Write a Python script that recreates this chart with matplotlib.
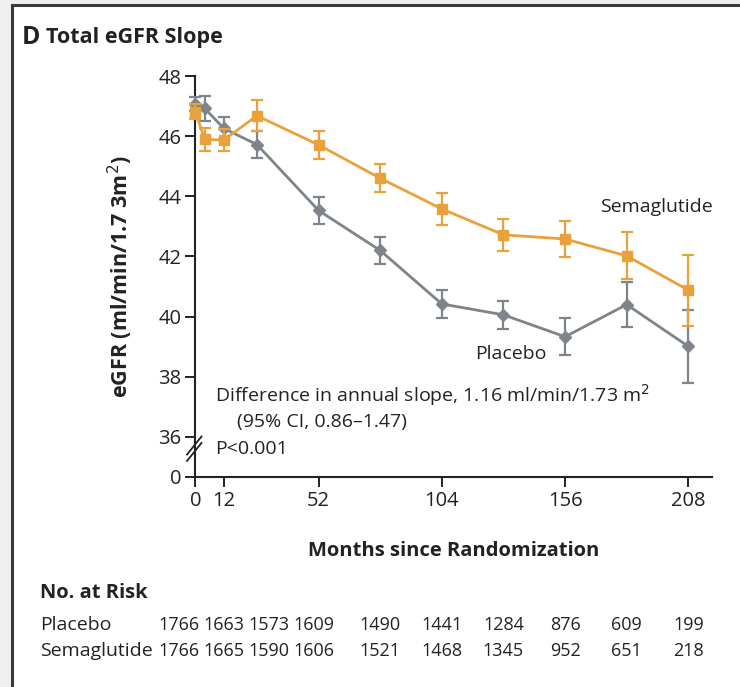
import matplotlib.pyplot as plt
import matplotlib.patches as mpatches
import matplotlib.lines as mlines
import numpy as np

plt.rcParams['font.family'] = ['Open Sans', 'DejaVu Sans']

# weeks since randomization
weeks = [0, 4, 12, 26, 52, 78, 104, 130, 156, 182, 208]
placebo = [47.06, 46.92, 46.26, 45.72, 43.53, 42.20, 40.42, 40.06, 39.33, 40.40, 39.01]
placebo_err = [0.23, 0.40, 0.37, 0.44, 0.44, 0.44, 0.47, 0.47, 0.62, 0.75, 1.22]
sema = [46.81, 45.89, 45.87, 46.68, 45.71, 44.60, 43.58, 42.72, 42.58, 42.02, 40.88]
sema_err = [0.25, 0.38, 0.36, 0.52, 0.46, 0.46, 0.52, 0.54, 0.60, 0.78, 1.18]

risk_placebo = [1766, 1663, 1573, 1609, 1490, 1441, 1284, 876, 609, 199]
risk_sema = [1766, 1665, 1590, 1606, 1521, 1468, 1345, 952, 651, 218]
# where the risk numbers sit (first ones packed together)
risk_x = [-7.0, 12.0, 31.0, 50.0, 78, 104, 130, 156, 182, 208]

xticks = [0, 12, 52, 104, 156, 208]
yticks = [0, 36, 38, 40, 42, 44, 46, 48]

orange = '#E9A23B'
gray = '#7E8489'
ink = '#222222'

# broken y axis: 0..36 squeezed into a small band
k = 1.333 / 36
def fwd(y):
    y = np.asarray(y, dtype=float)
    return np.where(y >= 36, y, 36 - (36 - y) * k)
def inv(u):
    u = np.asarray(u, dtype=float)
    return np.where(u >= 36, u, 36 - (36 - u) / k)

fig = plt.figure(figsize=(7.4, 6.87), dpi=100)
fig.patch.set_facecolor('#EFEFEF')
fig.patches.append(mpatches.Rectangle((12 / 740, 0), 1, 1 - 5 / 687, transform=fig.transFigure,
                                      facecolor='white', edgecolor='none', zorder=-5))
fig.add_artist(mlines.Line2D([12 / 740, 12 / 740], [0, 1 - 5 / 687], color='#3a3a3a', lw=2.2,
                             transform=fig.transFigure))
fig.add_artist(mlines.Line2D([12 / 740, 1], [1 - 5 / 687, 1 - 5 / 687], color='#3a3a3a', lw=2.2,
                             transform=fig.transFigure))

ax = fig.add_axes([195.3 / 740, 1 - 477 / 687, 516.7 / 740, 401 / 687])
ax.set_facecolor('none')
ax.set_yscale('function', functions=(fwd, inv))
ax.set_xlim(0, 218)
ax.set_ylim(0, 48)

ax.errorbar(weeks, placebo, yerr=placebo_err, color=gray, ecolor=gray, lw=2, elinewidth=1.6,
            capsize=4, capthick=1.6, marker='D', markersize=6.5, zorder=3, clip_on=False)
ax.errorbar(weeks, sema, yerr=sema_err, color=orange, ecolor=orange, lw=2, elinewidth=1.6,
            capsize=4, capthick=1.6, marker='s', markersize=7, zorder=4, clip_on=False)

ax.spines['top'].set_visible(False)
ax.spines['right'].set_visible(False)
for s in ('left', 'bottom'):
    ax.spines[s].set_linewidth(1.5)
    ax.spines[s].set_color(ink)
ax.set_xticks(xticks)
ax.set_yticks(yticks)
ax.set_yticklabels([str(t) for t in yticks])
ax.minorticks_off()
ax.tick_params(direction='out', length=7, width=1.4, colors=ink, labelsize=14.5, pad=3)

# axis break marks
for dy in (0.0, 0.016):
    ax.plot([-0.016, 0.012], [0.04 + dy, 0.085 + dy], transform=ax.transAxes, color=ink,
            lw=1.3, clip_on=False, zorder=5)

ax.set_xlabel('Months since Randomization', fontsize=14.5, fontweight='bold', color=ink, labelpad=22)
ax.set_ylabel('eGFR (ml/min/1.7 3m$^2$)', fontsize=15.5, fontweight='bold', color=ink, labelpad=17)

ax.text(194.6, 43.63, 'Semaglutide', fontsize=14, color=ink, ha='center', va='center')
ax.text(133, 38.77, 'Placebo', fontsize=14, color=ink, ha='center', va='center')
ax.text(0.038, 0.2045, 'Difference in annual slope, 1.16 ml/min/1.73 m$^2$', transform=ax.transAxes,
        fontsize=14, color=ink, va='center')
ax.text(0.081, 0.137, '(95% CI, 0.86\u20131.47)', transform=ax.transAxes, fontsize=14, color=ink,
        va='center')
ax.text(0.038, 0.0698, 'P<0.001', transform=ax.transAxes, fontsize=14, color=ink, va='center')

# title
fig.text(22 / 740, 1 - 37 / 687, 'D', fontsize=18, fontweight='bold', color=ink, va='center')
fig.text(46 / 740, 1 - 37 / 687, 'Total eGFR Slope', fontsize=15.5, fontweight='bold', color=ink,
         va='center')

# number at risk table
fig.text(40 / 740, 1 - 593 / 687, 'No. at Risk', fontsize=14.5, fontweight='bold', color=ink, va='center')
trans = ax.get_xaxis_transform()
for label, vals, ypix in (('Placebo', risk_placebo, 625), ('Semaglutide', risk_sema, 651)):
    fig.text(40 / 740, 1 - ypix / 687, label, fontsize=14, color=ink, va='center')
    for xv, n in zip(risk_x, vals):
        ax.text(xv, (477 - ypix) / 401, str(n), transform=trans, fontsize=13, color=ink,
                ha='center', va='center', clip_on=False)

fig.savefig('out.png', dpi=100, facecolor=fig.get_facecolor())
